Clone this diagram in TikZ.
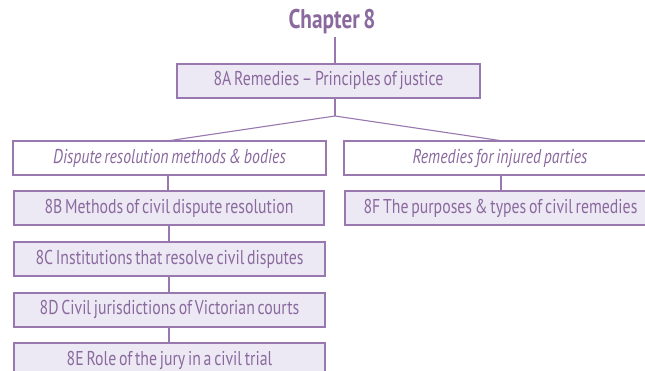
\documentclass[tikz,border=0pt]{standalone}
\usepackage{fontspec}
\setmainfont{PT Sans}[FakeStretch=0.79,WordSpace=0.65]
\definecolor{ptxt}{HTML}{8A6A9E}
\definecolor{pline}{HTML}{9878AE}
\definecolor{pfill}{HTML}{EDE9F4}
\begin{document}
\begin{tikzpicture}[x=1pt,y=-1pt,
  topic/.style={draw=pline,line width=1.1pt,fill=pfill,text=ptxt,minimum height=34pt,inner sep=0pt,font=\fontsize{20}{22}\selectfont},
  theme/.style={draw=pline,line width=1.1pt,fill=white,text=ptxt,minimum height=34pt,inner sep=0pt,font=\fontsize{20}{22}\selectfont\itshape},
  link/.style={draw=pline,line width=1.1pt}]
\useasboundingbox (0,0) rectangle (645,371);
\clip (0,0) rectangle (645,371);
\node[text=ptxt,font=\fontsize{27}{30}\selectfont\bfseries] (chap) at (332,22) {Chapter 8};
\node[topic,minimum width=303pt] (a) at (328.5,81) {8A Remedies – Principles of justice};
\node[theme,minimum width=313pt] (l) at (169.5,158) {Dispute resolution methods \& bodies};
\node[theme,minimum width=312pt] (r) at (500,158) {Remedies for injured parties};
\node[topic,minimum width=310pt] (b) at (169,208) {8B Methods of civil dispute resolution};
\node[topic,minimum width=311pt] (c) at (169.5,259) {8C Institutions that resolve civil disputes};
\node[topic,minimum width=311pt] (d) at (169.5,310) {8D Civil jurisdictions of Victorian courts};
\node[topic,minimum width=311pt] (e) at (169.5,360) {8E Role of the jury in a civil trial};
\node[topic,minimum width=311pt] (f) at (500.5,208) {8F The purposes \& types of civil remedies};
\coordinate (fork) at (335,116);
\draw[link] (335,37) -- (335,64);
\draw[link] (335,98) -- (fork);
\draw[link] (fork) -- (167,141);
\draw[link] (fork) -- (503,141);
\draw[link] (168,175) -- (168,191);
\draw[link] (169,225) -- (169,242);
\draw[link] (169,276) -- (169,293);
\draw[link] (169,327) -- (169,343);
\draw[link] (501,175) -- (501,191);
\end{tikzpicture}
\end{document}
